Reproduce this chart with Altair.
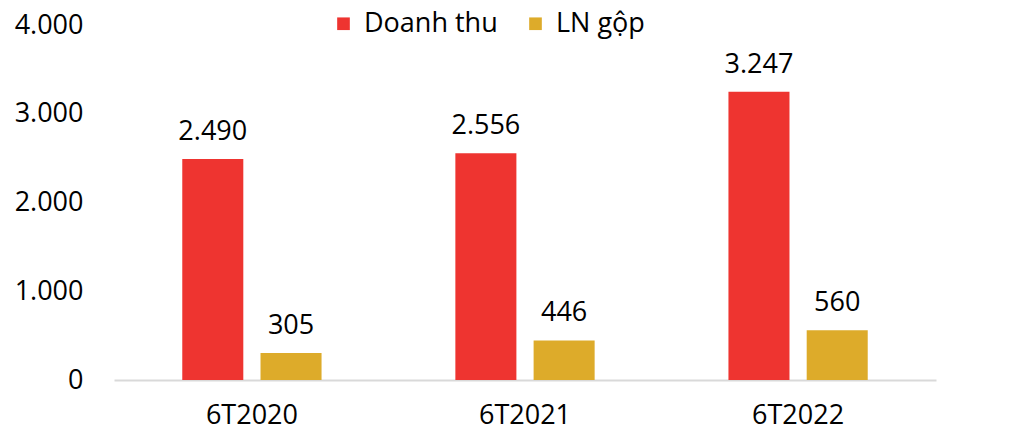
import altair as alt
import pandas as pd

periods = ["6T2020", "6T2021", "6T2022"]
series = ["Doanh thu", "LN gộp"]
doanh_thu = [2490, 2556, 3247]
ln_gop = [305, 446, 560]
y_ticks = [0, 1000, 2000, 3000, 4000]

rows = []
for i, p in enumerate(periods):
    rows.append({"period": p, "series": series[0], "value": doanh_thu[i],
                 "label": f"{doanh_thu[i]:,}".replace(",", ".")})
    rows.append({"period": p, "series": series[1], "value": ln_gop[i],
                 "label": f"{ln_gop[i]:,}".replace(",", ".")})
df = pd.DataFrame(rows)

FONT = "Open Sans"
FS = 27
colors = ["#EE3430", "#DDAB2A"]

x = alt.X("period:N", sort=periods, title=None,
          scale=alt.Scale(paddingInner=0.49, paddingOuter=0.25),
          axis=alt.Axis(labelAngle=0, labelFontSize=FS, labelFont=FONT, labelColor="#000000",
                        labelPadding=22, ticks=False, domainColor="#D9D9D9", domainWidth=2))
xo = alt.XOffset("series:N", sort=series,
                 scale=alt.Scale(paddingInner=0.22, paddingOuter=0))
y = alt.Y("value:Q", title=None,
          scale=alt.Scale(domain=[0, 4000], nice=False),
          axis=alt.Axis(values=y_ticks, labelExpr="replace(format(datum.value, ','), ',', '.')",
                        labelFontSize=FS, labelFont=FONT, labelColor="#000000",
                        labelPadding=31, ticks=False, domain=False, grid=False))

bars = alt.Chart(df).mark_bar().encode(
    x=x, xOffset=xo, y=y,
    color=alt.Color("series:N", sort=series,
                    scale=alt.Scale(domain=series, range=colors),
                    legend=alt.Legend(title=None, orient="none", direction="horizontal",
                                      legendX=216, legendY=-15,
                                      symbolType="square", symbolSize=160,
                                      symbolStrokeWidth=0,
                                      labelFontSize=FS, labelFont=FONT, labelColor="#000000",
                                      columnPadding=24, labelOffset=7))
)

labels = alt.Chart(df).mark_text(font=FONT, fontSize=FS, color="#000000",
                                 baseline="alphabetic", dy=-19).encode(
    x=x, xOffset=xo, y=y, text="label:N"
)

chart = (bars + labels).properties(
    width=822, height=355,
    autosize=alt.AutoSizeParams(type="none"),
    padding={"left": 106, "top": 17, "right": 70, "bottom": 60},
).configure_view(stroke=None)

chart.save("out.html", embed_options={"renderer": "svg", "actions": False})
